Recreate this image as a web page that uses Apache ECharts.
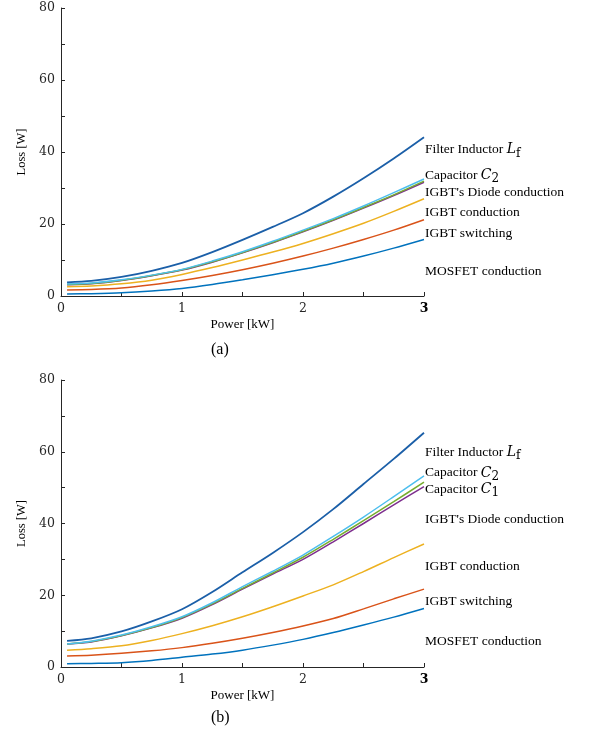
<!DOCTYPE html>
<html>
<head>
<meta charset="utf-8">
<script src="https://cdn.jsdelivr.net/npm/echarts@6/dist/echarts.min.js"></script>
<style>
  html, body { margin: 0; padding: 0; background: #fff; }
  #chart { width: 592px; height: 740px; }
</style>
</head>
<body>
<div id="chart"></div>
<script>
// Output power samples [kW]
const power = [0.05, 0.25, 0.5, 0.75, 1.0, 1.25, 1.5, 1.75, 2.0, 2.25, 2.5, 2.75, 3.0];

// Panel (a) losses [W]
const mosfetA   = [0.55, 0.65, 0.9, 1.4, 2.1, 3.2, 4.5, 5.9, 7.4, 9.1, 11.1, 13.3, 15.7];
const igbtSwA   = [1.7, 1.8, 2.2, 3.1, 4.3, 5.7, 7.3, 9.1, 11.1, 13.3, 15.7, 18.3, 21.2];
const igbtCondA = [2.6, 2.8, 3.4, 4.4, 6.0, 7.9, 10.0, 12.2, 14.6, 17.3, 20.2, 23.5, 27.0];
const diodeA    = [3.1, 3.4, 4.3, 5.6, 7.2, 9.4, 12.0, 14.8, 17.8, 21.0, 24.4, 27.9, 31.6];
const capC1A    = [3.2, 3.5, 4.4, 5.7, 7.3, 9.5, 12.1, 14.9, 18.0, 21.2, 24.6, 28.1, 31.9];
const capC2A    = [3.3, 3.6, 4.5, 5.8, 7.4, 9.7, 12.3, 15.2, 18.3, 21.5, 25.0, 28.7, 32.5];
const filterA   = [3.8, 4.2, 5.3, 7.0, 9.2, 12.2, 15.6, 19.2, 23.0, 27.6, 32.7, 38.2, 44.1];

// Panel (b) losses [W]
const mosfetB   = [0.9, 1.0, 1.2, 1.8, 2.7, 3.6, 4.7, 6.1, 7.7, 9.6, 11.7, 13.9, 16.3];
const igbtSwB   = [3.1, 3.3, 3.8, 4.5, 5.4, 6.6, 8.0, 9.6, 11.4, 13.5, 16.2, 19.0, 21.7];
const igbtCondB = [4.7, 5.1, 5.9, 7.4, 9.3, 11.5, 14.0, 16.8, 19.8, 22.9, 26.6, 30.5, 34.3];
const diodeB    = [6.4, 7.0, 8.7, 10.9, 13.6, 17.4, 21.7, 25.9, 30.0, 34.9, 40.0, 45.2, 50.3];
const capC1B    = [6.4, 7.1, 8.8, 11.0, 13.8, 17.6, 21.9, 26.2, 30.6, 35.6, 40.8, 46.1, 51.5];
const capC2B    = [6.4, 7.2, 8.9, 11.2, 14.0, 17.9, 22.4, 26.7, 31.2, 36.4, 41.8, 47.5, 53.3];
const filterB   = [7.3, 8.0, 9.9, 12.7, 16.1, 20.9, 26.4, 31.8, 37.6, 44.0, 51.0, 58.0, 65.3];

// Axis ticks
const xTicks = [0, 1, 2, 3];
const yTicks = [0, 20, 40, 60, 80];

// Curve annotations: text and the loss level they sit at (right of the curves)
const labelTextA = ['MOSFET conduction', 'IGBT switching', 'IGBT conduction', "IGBT's Diode conduction", null, 'Capacitor {m|C}{s|2}', 'Filter Inductor {m|L}{s|f}'];
const labelLevelA = [6.9, 17.5, 23.3, 28.9, null, 33.6, 40.6];
const labelTextB = ['MOSFET conduction', 'IGBT switching', 'IGBT conduction', "IGBT's Diode conduction", 'Capacitor {m|C}{s|1}', 'Capacitor {m|C}{s|2}', 'Filter Inductor {m|L}{s|f}'];
const labelLevelB = [7.0, 18.4, 27.9, 41.0, 49.6, 54.1, 59.9];

const colors = ['#0072BD', '#D95319', '#EDB120', '#7E2F8E', '#77AC30', '#4DBEEE', '#1b5fa8'];
const seriesA = [mosfetA, igbtSwA, igbtCondA, diodeA, capC1A, capC2A, filterA];
const seriesB = [mosfetB, igbtSwB, igbtCondB, diodeB, capC1B, capC2B, filterB];

const axisColor = '#262626';
const serif = '"Liberation Serif", "Times New Roman", serif';
const tickFont = '"DejaVu Serif", serif';

const richStyles = {
  t: { fontFamily: serif, fontSize: 13.5, color: '#000', verticalAlign: 'middle', lineHeight: 20 },
  m: { fontFamily: tickFont, fontStyle: 'italic', fontSize: 14, color: '#000', verticalAlign: 'middle', lineHeight: 20 },
  s: { fontFamily: tickFont, fontSize: 12, color: '#000', verticalAlign: 'bottom', lineHeight: 14 }
};

function makeXAxis(gridIndex) {
  return {
    type: 'value', gridIndex, min: 0, max: 3, interval: 0.5,
    name: 'Power [kW]', nameLocation: 'middle', nameGap: 22,
    nameTextStyle: { fontFamily: serif, fontSize: 13, color: '#000' },
    axisLine: { show: true, onZero: false, lineStyle: { color: axisColor, width: 1 } },
    axisTick: { show: true, inside: true, length: 4, lineStyle: { color: axisColor } },
    splitLine: { show: false },
    axisLabel: {
      margin: 6, fontFamily: tickFont, fontSize: 12.5, color: axisColor,
      formatter: v => {
        if (!xTicks.includes(v)) return '';
        return v === 3 ? '{b|3}' : String(v);
      },
      rich: { b: { fontFamily: tickFont, fontSize: 12.5, fontWeight: 'bold', color: '#000' } }
    }
  };
}

function makeYAxis(gridIndex) {
  return {
    type: 'value', gridIndex, min: 0, max: 80, interval: 10,
    name: 'Loss [W]', nameLocation: 'middle', nameGap: 32, nameRotate: 90,
    nameTextStyle: { fontFamily: serif, fontSize: 12.5, color: '#000' },
    axisLine: { show: true, onZero: false, lineStyle: { color: axisColor, width: 1 } },
    axisTick: { show: true, inside: true, length: 4, lineStyle: { color: axisColor } },
    splitLine: { show: false },
    axisLabel: {
      margin: 6, fontFamily: tickFont, fontSize: 12.5, color: axisColor,
      formatter: v => (yTicks.includes(v) ? String(v) : '')
    }
  };
}

function makeSeries(dataSets, texts, levels, idx) {
  return dataSets.map((vals, i) => {
    const s = {
      type: 'line', xAxisIndex: idx, yAxisIndex: idx,
      data: power.map((p, k) => [p, vals[k]]),
      showSymbol: false, smooth: 0.3,
      lineStyle: { color: colors[i], width: i === 6 ? 1.8 : 1.5 },
      itemStyle: { color: colors[i] },
      z: 2 + i
    };
    if (texts[i]) {
      const txt = texts[i].startsWith('Capacitor') || texts[i].startsWith('Filter')
        ? texts[i].replace(/^([^{]+)/, '{t|$1}')
        : '{t|' + texts[i] + '}';
      s.markPoint = {
        silent: true, symbol: 'circle', symbolSize: 0,
        data: [{ coord: [3, levels[i]] }],
        label: { show: true, position: 'right', distance: 1, formatter: txt, rich: richStyles }
      };
    }
    return s;
  });
}

const chart = echarts.init(document.getElementById('chart'), null, { renderer: 'canvas' });
chart.setOption({
  animation: false,
  backgroundColor: '#fff',
  grid: [
    { left: 61, top: 8, width: 363, height: 288 },
    { left: 61, top: 380, width: 363, height: 287 }
  ],
  xAxis: [makeXAxis(0), makeXAxis(1)],
  yAxis: [makeYAxis(0), makeYAxis(1)],
  series: [
    ...makeSeries(seriesA, labelTextA, labelLevelA, 0),
    ...makeSeries(seriesB, labelTextB, labelLevelB, 1)
  ],
  graphic: [
    { type: 'text', left: 211, top: 342, style: { text: '(a)', font: '16px ' + serif, fill: '#000' } },
    { type: 'text', left: 211, top: 710, style: { text: '(b)', font: '16px ' + serif, fill: '#000' } }
  ]
});
</script>
</body>
</html>
